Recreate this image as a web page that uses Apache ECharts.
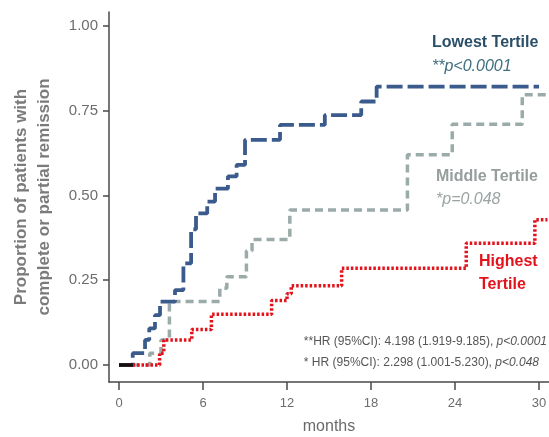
<!DOCTYPE html>
<html>
<head>
<meta charset="utf-8">
<script src="https://cdn.jsdelivr.net/npm/echarts@6/dist/echarts.min.js"></script>
<style>
  html, body { margin: 0; padding: 0; background: #fff; }
  #km { width: 549px; height: 437px; }
</style>
</head>
<body>
<div id="km"></div>
<script>
// step points: month of event, proportion reached
const lowestMonths = [0, 0.98, 1.86, 2.16, 2.57, 2.93, 4.0, 4.6, 5.15, 5.5, 6.3, 6.86, 7.78, 8.4, 9.0, 11.5, 14.7, 17.3, 18.4, 30.0];
const lowestProp = [0, 0.035, 0.074, 0.108, 0.147, 0.187, 0.221, 0.30, 0.40, 0.447, 0.482, 0.52, 0.556, 0.59, 0.664, 0.708, 0.737, 0.777, 0.821, 0.821];

const middleMonths = [0, 2.2, 3.0, 3.6, 7.2, 7.7, 9.1, 9.5, 12.2, 20.6, 23.8, 28.8, 30.6];
const middleProp = [0, 0.035, 0.074, 0.187, 0.226, 0.26, 0.337, 0.37, 0.457, 0.62, 0.71, 0.797, 0.797];

const highestMonths = [0, 2.9, 3.2, 5.2, 6.6, 10.9, 12.0, 12.3, 15.9, 24.8, 29.7, 30.6];
const highestProp = [0, 0.035, 0.074, 0.105, 0.15, 0.19, 0.21, 0.234, 0.285, 0.359, 0.428, 0.428];

const baseMonths = [0, 1.0];
const baseProp = [0, 0];

const monthTicks = [0, 6, 12, 18, 24, 30];
const propTicks = [0, 0.25, 0.5, 0.75, 1.0];

const toPairs = (xs, ys) => xs.map((x, i) => [x, ys[i]]);

const chartDom = document.getElementById('km');
const chart = echarts.init(chartDom);

const labelFont = 'Liberation Sans';

const option = {
  animation: false,
  grid: { left: 109, right: 0, top: 12, bottom: 55, outerBoundsMode: 'none' },
  xAxis: {
    type: 'value',
    min: -0.714,
    max: 30.71,
    name: 'months',
    nameLocation: 'middle',
    nameGap: 37,
    nameTextStyle: { color: '#6a6a6a', fontSize: 16, fontFamily: labelFont },
    splitLine: { show: false },
    axisLine: { onZero: false, lineStyle: { color: '#4a4a4a', width: 1.5 } },
    axisTick: { customValues: monthTicks, length: 8, lineStyle: { color: '#4a4a4a', width: 1.5 } },
    axisLabel: { customValues: monthTicks, margin: 15, color: '#6d6d6d', fontSize: 13, fontFamily: labelFont }
  },
  yAxis: {
    type: 'value',
    min: -0.0501,
    max: 1.041,
    name: 'Proportion of patients with\ncomplete or partial remission',
    nameLocation: 'middle',
    nameRotate: 90,
    nameGap: 53,
    nameTextStyle: { color: '#7b7b7b', fontSize: 17, fontWeight: 'bold', lineHeight: 23, fontFamily: labelFont },
    splitLine: { show: false },
    axisLine: { show: true, onZero: false, lineStyle: { color: '#4a4a4a', width: 1.5 } },
    axisTick: { show: true, customValues: propTicks, length: 6, lineStyle: { color: '#4a4a4a', width: 1.5 } },
    axisLabel: {
      customValues: propTicks,
      margin: 11,
      color: '#6d6d6d',
      fontSize: 15,
      fontFamily: labelFont,
      formatter: (v) => v.toFixed(2)
    }
  },
  series: [
    {
      name: 'Middle Tertile',
      type: 'line',
      step: 'end',
      symbol: 'none',
      data: toPairs(middleMonths, middleProp),
      lineStyle: { color: '#9aaba9', width: 3.5, type: [8, 5], cap: 'butt' }
    },
    {
      name: 'Lowest Tertile',
      type: 'line',
      step: 'end',
      symbol: 'none',
      data: toPairs(lowestMonths, lowestProp),
      lineStyle: { color: '#3b5b8c', width: 3.8, type: [16, 5], cap: 'butt' }
    },
    {
      name: 'Highest Tertile',
      type: 'line',
      step: 'end',
      symbol: 'none',
      data: toPairs(highestMonths, highestProp),
      lineStyle: { color: '#e3121b', width: 3.5, type: [2.5, 2], cap: 'butt' }
    },
    {
      name: 'baseline',
      type: 'line',
      symbol: 'none',
      data: toPairs(baseMonths, baseProp),
      lineStyle: { color: '#111', width: 3.5 }
    }
  ],
  graphic: [
    {
      type: 'text', x: 432, y: 43,
      style: { text: 'Lowest Tertile', fill: '#2b4f68', font: 'bold 16px Liberation Sans', verticalAlign: 'middle' }
    },
    {
      type: 'text', x: 432, y: 67,
      style: { text: '**p<0.0001', fill: '#3f6f80', font: 'italic 16px Liberation Sans', verticalAlign: 'middle' }
    },
    {
      type: 'text', x: 436, y: 177,
      style: { text: 'Middle Tertile', fill: '#969d9d', font: 'bold 16px Liberation Sans', verticalAlign: 'middle' }
    },
    {
      type: 'text', x: 436, y: 200,
      style: { text: '*p=0.048', fill: '#9ca3a3', font: 'italic 16px Liberation Sans', verticalAlign: 'middle' }
    },
    {
      type: 'text', x: 479, y: 262,
      style: { text: 'Highest', fill: '#e3121b', font: 'bold 16px Liberation Sans', verticalAlign: 'middle' }
    },
    {
      type: 'text', x: 479, y: 285,
      style: { text: 'Tertile', fill: '#e3121b', font: 'bold 16px Liberation Sans', verticalAlign: 'middle' }
    },
    {
      type: 'text', x: 547, y: 342,
      style: {
        text: '{n|**HR (95%CI): 4.198 (1.919-9.185), }{i|p<0.0001}',
        align: 'right', verticalAlign: 'middle',
        rich: {
          n: { fill: '#555', fontSize: 12, fontFamily: labelFont },
          i: { fill: '#555', fontSize: 12, fontStyle: 'italic', fontFamily: labelFont }
        }
      }
    },
    {
      type: 'text', x: 539, y: 363,
      style: {
        text: '{n|* HR (95%CI): 2.298 (1.001-5.230), }{i|p<0.048}',
        align: 'right', verticalAlign: 'middle',
        rich: {
          n: { fill: '#555', fontSize: 12, fontFamily: labelFont },
          i: { fill: '#555', fontSize: 12, fontStyle: 'italic', fontFamily: labelFont }
        }
      }
    }
  ]
};

option && chart.setOption(option);
</script>
</body>
</html>
